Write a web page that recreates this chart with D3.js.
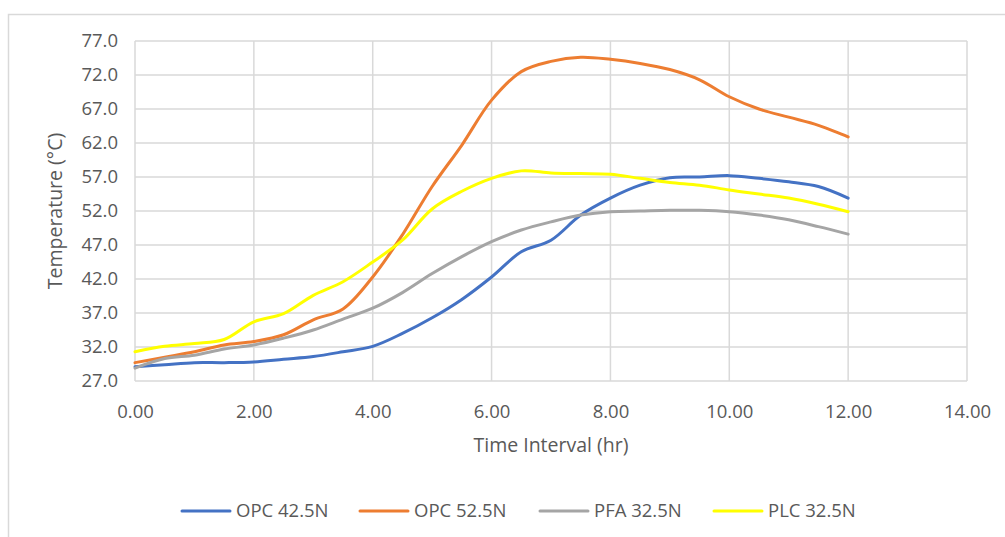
<!DOCTYPE html>
<html>
<head>
<meta charset="utf-8">
<script src="https://cdn.jsdelivr.net/npm/d3@7"></script>
<style>
  html, body { margin: 0; padding: 0; background: #fff; }
  svg { display: block; }
  text { font-family: "Open Sans", "Noto Sans", sans-serif; fill: #595959; }
</style>
</head>
<body>
<svg id="chart" width="1005" height="537"></svg>
<script>
// ---- data ----
const hours = [0, 0.5, 1, 1.5, 2, 2.5, 3, 3.5, 4, 4.5, 5, 5.5, 6, 6.5, 7, 7.5, 8, 8.5, 9, 9.5, 10, 10.5, 11, 11.5, 12];
const opc425 = [29.1, 29.4, 29.7, 29.7, 29.8, 30.2, 30.6, 31.3, 32.1, 34.0, 36.3, 39.0, 42.3, 46.0, 47.7, 51.4, 53.9, 55.8, 56.9, 57.0, 57.2, 56.8, 56.3, 55.6, 53.9];
const opc525 = [29.7, 30.5, 31.3, 32.3, 32.8, 33.8, 36.0, 37.6, 42.3, 48.5, 55.6, 61.7, 68.3, 72.5, 74.0, 74.6, 74.3, 73.7, 72.8, 71.3, 68.8, 67.0, 65.8, 64.6, 62.9];
const pfa325 = [28.9, 30.3, 30.8, 31.7, 32.3, 33.3, 34.5, 36.1, 37.7, 40.0, 42.8, 45.3, 47.5, 49.2, 50.4, 51.4, 51.9, 52.0, 52.1, 52.1, 51.9, 51.4, 50.7, 49.7, 48.6];
const plc325 = [31.3, 32.1, 32.5, 33.1, 35.7, 36.9, 39.6, 41.6, 44.5, 47.7, 52.3, 54.9, 56.8, 57.9, 57.6, 57.5, 57.4, 56.8, 56.2, 55.8, 55.1, 54.5, 53.9, 53.0, 51.9];
const seriesNames = ["OPC 42.5N", "OPC 52.5N", "PFA 32.5N", "PLC 32.5N"];
const seriesColors = ["#4472C4", "#ED7D31", "#A5A5A5", "#FFFF00"];
const xTicks = [0, 2, 4, 6, 8, 10, 12, 14];
const yTicks = [27, 32, 37, 42, 47, 52, 57, 62, 67, 72, 77];
const xTitle = "Time Interval (hr)";
const yTitle = "Temperature (°C)";

const seriesValues = [opc425, opc525, pfa325, plc325];
const series = seriesNames.map((name, i) => ({
  name, color: seriesColors[i],
  points: hours.map((h, j) => [h, seriesValues[i][j]])
}));

// ---- layout ----
const svg = d3.select("#chart");
const pLeft = 135, pRight = 967, pTop = 41, pBottom = 381;

svg.append("rect").attr("x", 8.5).attr("y", 14.5).attr("width", 1010).attr("height", 540)
  .attr("fill", "#fff").attr("stroke", "#d9d9d9").attr("stroke-width", 1.5);

const x = d3.scaleLinear().domain([0, 14]).range([pLeft, pRight]);
const y = d3.scaleLinear().domain([27, 77]).range([pBottom, pTop]);

// gridlines
const g = svg.append("g");
g.selectAll("line.h").data(yTicks).join("line").attr("class", "h")
  .attr("x1", pLeft).attr("x2", pRight)
  .attr("y1", d => y(d)).attr("y2", d => y(d))
  .attr("stroke", "#d9d9d9").attr("stroke-width", 1.5);
g.selectAll("line.v").data(xTicks).join("line").attr("class", "v")
  .attr("y1", pTop).attr("y2", pBottom)
  .attr("x1", d => x(d)).attr("x2", d => x(d))
  .attr("stroke", "#d9d9d9").attr("stroke-width", 1.5);

// axes (labels only)
const xAxis = svg.append("g").attr("transform", `translate(0,${pBottom})`)
  .call(d3.axisBottom(x).tickValues(xTicks).tickFormat(d3.format(".2f")).tickSize(0).tickPadding(24));
xAxis.select(".domain").remove();
xAxis.selectAll("text").style("font-size", "18.5px").attr("fill", "#595959");

const yAxis = svg.append("g").attr("transform", `translate(${pLeft},0)`)
  .call(d3.axisLeft(y).tickValues(yTicks).tickFormat(d3.format(".1f")).tickSize(0).tickPadding(17));
yAxis.select(".domain").remove();
yAxis.selectAll("text").style("font-size", "18.5px").attr("fill", "#595959");

// titles
svg.append("text").attr("x", (pLeft + pRight) / 2).attr("y", 452)
  .attr("text-anchor", "middle").style("font-size", "19.5px").text(xTitle);
svg.append("text").attr("transform", `translate(62,${(pTop + pBottom) / 2}) rotate(-90)`)
  .attr("text-anchor", "middle").style("font-size", "19.5px").text(yTitle);

// lines
const line = d3.line().x(d => x(d[0])).y(d => y(d[1])).curve(d3.curveCatmullRom.alpha(0.5));
svg.append("g").selectAll("path").data(series).join("path")
  .attr("d", d => line(d.points))
  .attr("fill", "none").attr("stroke", d => d.color)
  .attr("stroke-width", 3).attr("stroke-linecap", "round").attr("stroke-linejoin", "round");

// legend
const legendY = 511;
const legendX = [182, 360, 540, 714];
const lg = svg.append("g").selectAll("g").data(series).join("g")
  .attr("transform", (d, i) => `translate(${legendX[i]},${legendY})`);
lg.append("line").attr("x1", 0).attr("x2", 48).attr("y1", 0).attr("y2", 0)
  .attr("stroke", d => d.color).attr("stroke-width", 3).attr("stroke-linecap", "round");
lg.append("text").attr("x", 54).attr("y", 0).attr("dy", "0.35em")
  .style("font-size", "18.5px").text(d => d.name);
</script>
</body>
</html>
